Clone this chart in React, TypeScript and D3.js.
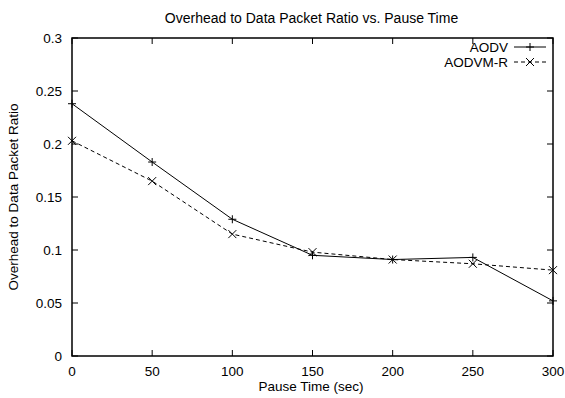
import React from "react";
import * as d3 from "d3";

const pauseTimes = [0, 50, 100, 150, 200, 250, 300];
const aodv = [0.238, 0.183, 0.129, 0.095, 0.091, 0.093, 0.052];
const aodvmr = [0.203, 0.165, 0.115, 0.098, 0.091, 0.087, 0.081];
const xTicks = [0, 50, 100, 150, 200, 250, 300];
const yTicks = [0, 0.05, 0.1, 0.15, 0.2, 0.25, 0.3];
const seriesNames = ["AODV", "AODVM-R"];

const W = 565, H = 398;
const L = 72, R = 553, T = 38, B = 356;
const FONT = "Liberation Sans, Arial, sans-serif";

export default function App() {
  const x = d3.scaleLinear().domain([0, 300]).range([L, R]);
  const y = d3.scaleLinear().domain([0, 0.3]).range([B, T]);
  const line = d3.line<number>().x((_, i) => x(pauseTimes[i])).y((d) => y(d));
  const tl = 6;
  const plus = (cx: number, cy: number, k: string) => (
    <path key={k} d={`M${cx - 4},${cy}H${cx + 4}M${cx},${cy - 4}V${cy + 4}`} stroke="#000" strokeWidth={1} fill="none" />
  );
  const cross = (cx: number, cy: number, k: string) => (
    <path key={k} d={`M${cx - 4},${cy - 4}L${cx + 4},${cy + 4}M${cx - 4},${cy + 4}L${cx + 4},${cy - 4}`} stroke="#000" strokeWidth={1} fill="none" />
  );
  return (
    <svg width={W} height={H} style={{ position: "absolute", left: 0, top: 0, background: "#fff" }} fontFamily={FONT}>
      <rect x={0} y={0} width={W} height={H} fill="#fff" />
      <text x={311.5} y={23} textAnchor="middle" fontSize={14}>Overhead to Data Packet Ratio vs. Pause Time</text>
      {xTicks.map((t) => (
        <g key={"x" + t}>
          <line x1={x(t)} x2={x(t)} y1={B} y2={B - tl} stroke="#000" />
          <line x1={x(t)} x2={x(t)} y1={T} y2={T + tl} stroke="#000" />
          <text x={x(t)} y={B + 20} textAnchor="middle" fontSize={13.5}>{t}</text>
        </g>
      ))}
      {yTicks.map((t) => (
        <g key={"y" + t}>
          <line x1={L} x2={L + tl} y1={y(t)} y2={y(t)} stroke="#000" />
          <line x1={R} x2={R - tl} y1={y(t)} y2={y(t)} stroke="#000" />
          <text x={L - 10} y={y(t) + 5} textAnchor="end" fontSize={13.5}>{String(t)}</text>
        </g>
      ))}
      <rect x={L} y={T} width={R - L} height={B - T} fill="none" stroke="#000" strokeWidth={1.5} />
      <path d={line(aodv) || ""} fill="none" stroke="#000" strokeWidth={1} />
      <path d={line(aodvmr) || ""} fill="none" stroke="#000" strokeWidth={1} strokeDasharray="4,3" />
      {aodv.map((v, i) => plus(x(pauseTimes[i]), y(v), "p" + i))}
      {aodvmr.map((v, i) => cross(x(pauseTimes[i]), y(v), "c" + i))}
      <text x={508} y={52} textAnchor="end" fontSize={13.5}>{seriesNames[0]}</text>
      <line x1={514} x2={546} y1={47} y2={47} stroke="#000" />
      {plus(530, 47, "lp")}
      <text x={508} y={67} textAnchor="end" fontSize={13.5}>{seriesNames[1]}</text>
      <line x1={514} x2={546} y1={62} y2={62} stroke="#000" strokeDasharray="4,3" />
      {cross(530, 62, "lc")}
      <text x={311} y={391} textAnchor="middle" fontSize={13.5}>Pause Time (sec)</text>
      <text transform={`translate(18,${(T + B) / 2}) rotate(-90)`} textAnchor="middle" fontSize={13.5}>Overhead to Data Packet Ratio</text>
    </svg>
  );
}
